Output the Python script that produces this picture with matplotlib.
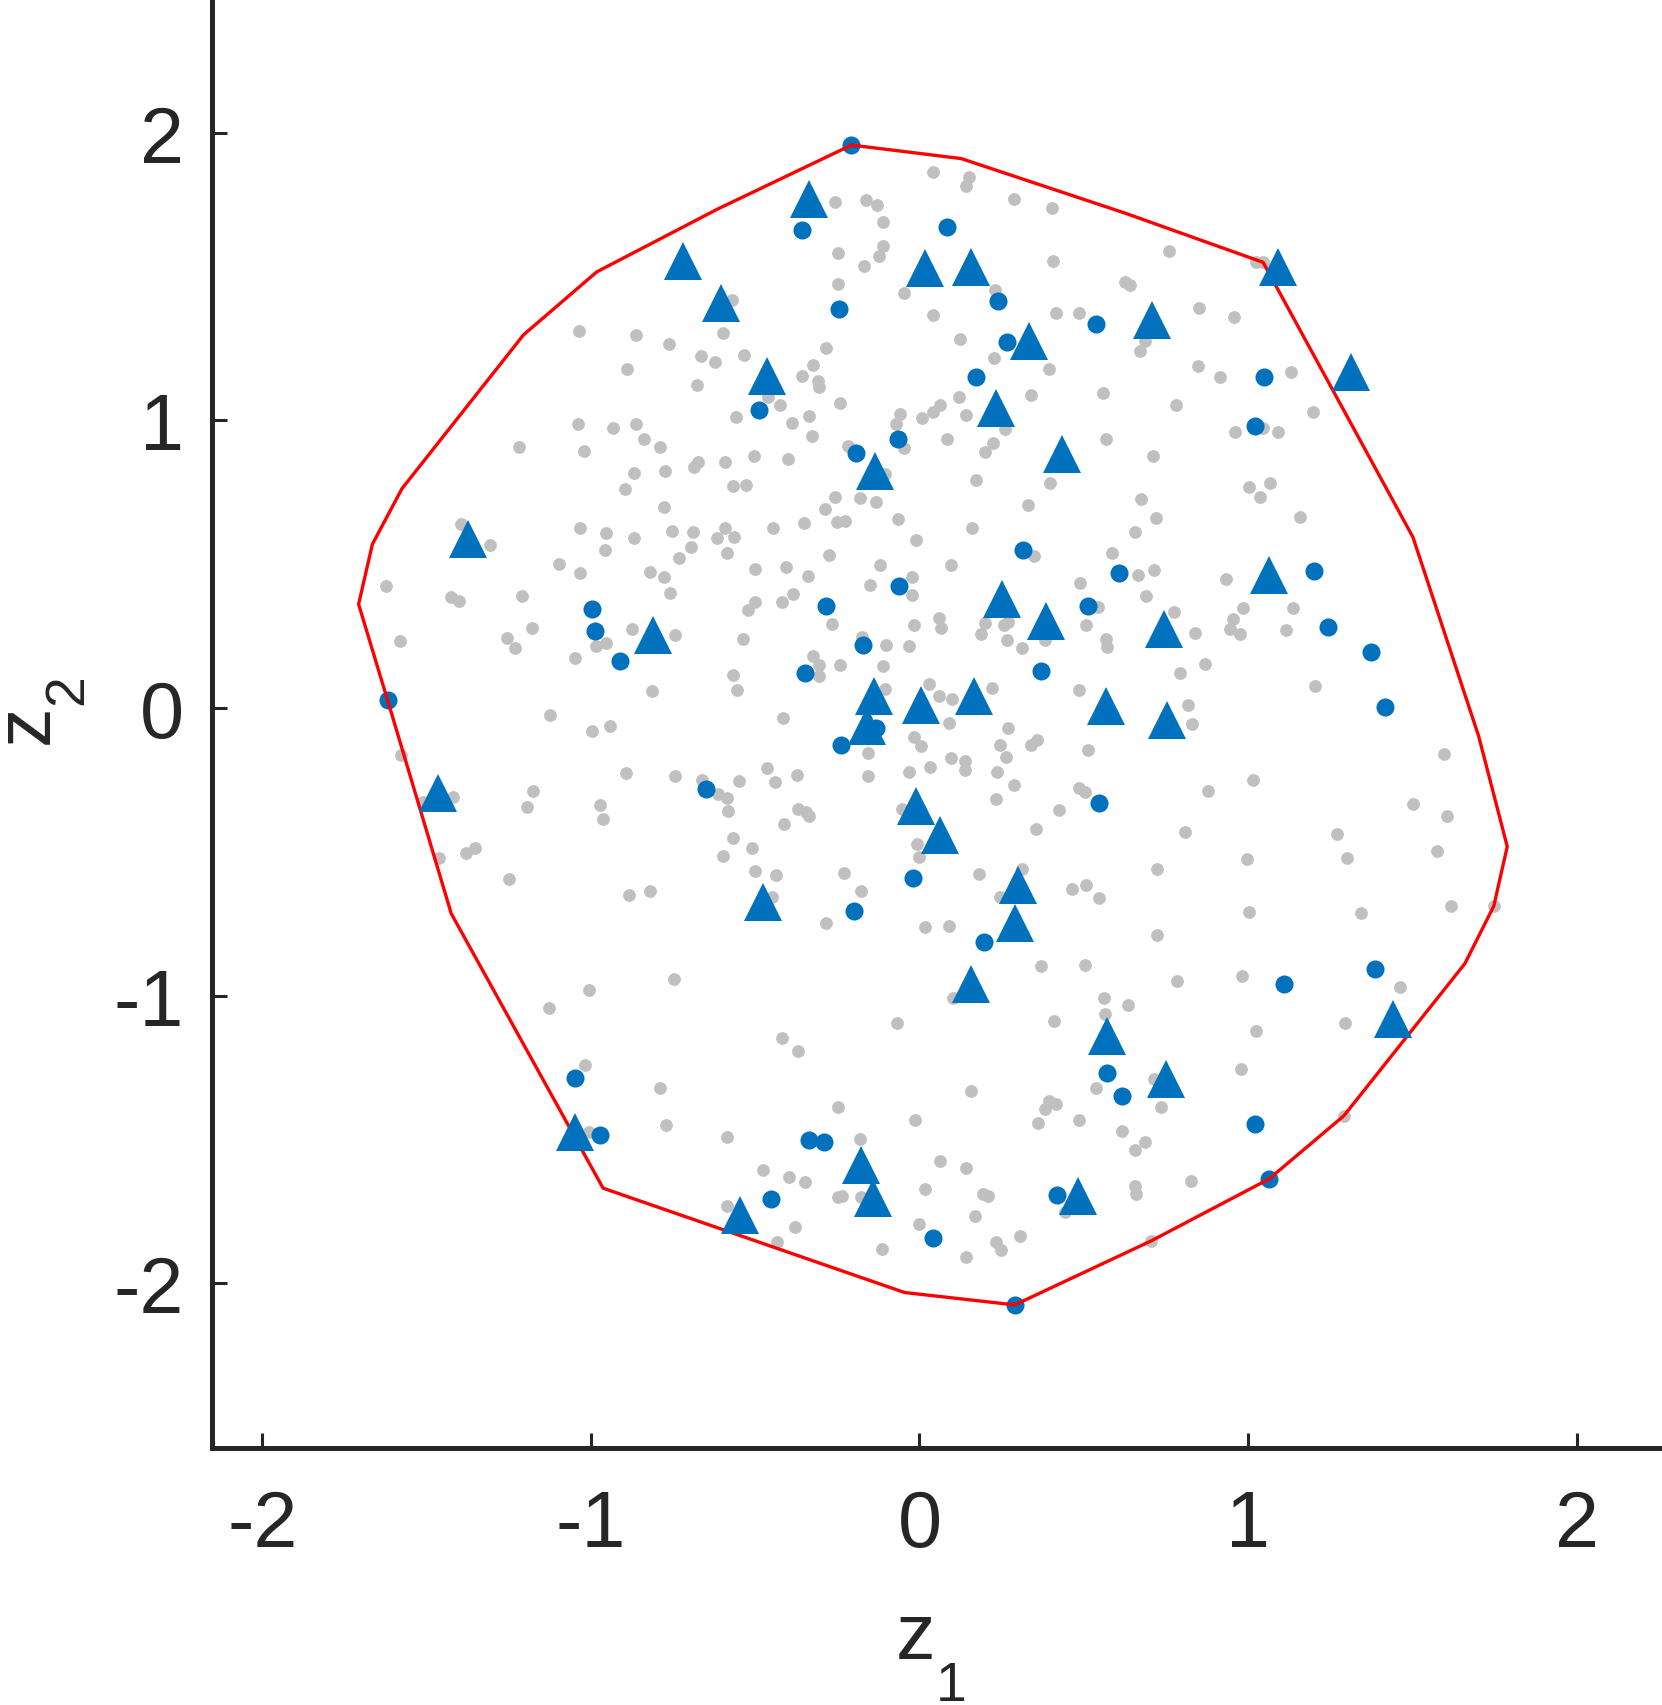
import matplotlib
matplotlib.use("Agg")
import matplotlib.pyplot as plt

# Werte (Datenkoordinaten z1, z2)

# graue Punkte (Stichprobe)
gray_pts = [
    (-0.572, 1.419), (-1.036, 1.310), (-0.864, 1.297), (-0.761, 1.266), (-0.597, 1.305),
    (-0.666, 1.224), (-0.623, 1.202), (-0.533, 1.227), (-0.891, 1.180), (-0.678, 1.122),
    (-0.559, 1.013), (-1.040, 0.987), (-0.933, 0.973), (-0.864, 0.988), (-0.839, 0.934),
    (-0.789, 0.907), (-1.220, 0.908), (-1.022, 0.894), (-0.673, 0.855), (-0.686, 0.839),
    (-0.592, 0.855), (-0.775, 0.825), (-0.869, 0.816), (-0.895, 0.761), (-0.567, 0.772),
    (-0.529, 0.776), (-0.777, 0.700),
    (0.041, 1.863), (0.150, 1.848), (0.143, 1.815), (-0.257, 1.760), (-0.164, 1.766),
    (-0.130, 1.750), (-0.110, 1.689), (0.288, 1.772), (0.402, 1.739), (-0.249, 1.583),
    (-0.110, 1.606), (-0.122, 1.572), (-0.168, 1.538), (-0.247, 1.475), (-0.047, 1.445),
    (0.040, 1.367), (0.405, 1.554), (0.625, 1.481), (0.640, 1.473), (0.229, 1.455),
    (0.415, 1.373), (0.485, 1.373), (0.122, 1.283), (0.227, 1.219), (0.394, 1.180),
    (0.670, 1.240), (0.686, 1.278), (-0.284, 1.253), (-0.323, 1.193), (-0.359, 1.156),
    (-0.310, 1.139), (-0.306, 1.116), (-0.460, 1.081), (-0.424, 1.054), (-0.242, 1.060),
    (-0.387, 0.992), (-0.336, 1.015), (-0.328, 0.947), (0.338, 1.089), (0.560, 1.096),
    (0.120, 1.080), (0.062, 1.054), (0.042, 1.029), (0.007, 1.007), (-0.060, 1.023),
    (-0.070, 0.988), (0.143, 1.020), (0.259, 0.969), (0.084, 0.934), (0.224, 0.921),
    (0.201, 0.890), (0.568, 0.934), (-0.503, 0.878), (-0.400, 0.865), (-0.217, 0.913),
    (-0.048, 0.904), (-0.105, 0.814), (0.173, 0.794), (0.397, 0.784), (-0.257, 0.733),
    (-0.181, 0.729), (-0.131, 0.715), (-0.286, 0.693), (0.330, 0.705), (0.673, 0.727),
    (-0.064, 0.658), (-0.351, 0.643), (-0.252, 0.646), (-0.227, 0.650),
    (0.759, 1.590), (1.023, 1.553), (1.046, 1.550), (0.851, 1.390), (0.957, 1.359),
    (0.847, 1.191), (0.916, 1.151), (1.132, 1.167), (0.781, 1.055), (1.197, 1.028),
    (0.960, 0.959), (1.046, 0.974), (1.091, 0.959), (0.711, 0.875), (1.002, 0.768),
    (1.067, 0.782), (1.037, 0.734), (0.721, 0.660), (1.158, 0.666),
    (-1.034, 0.625), (-0.954, 0.607), (-0.870, 0.592), (-0.753, 0.617), (-0.689, 0.611),
    (-0.615, 0.592), (-0.564, 0.595), (-0.586, 0.540), (-0.591, 0.627), (-1.307, 0.567),
    (-1.396, 0.640), (-0.958, 0.548), (-1.098, 0.502), (-1.032, 0.469), (-0.819, 0.472),
    (-0.779, 0.454), (-0.732, 0.521), (-0.695, 0.559), (-0.759, 0.400), (-1.623, 0.424),
    (-1.426, 0.385), (-1.402, 0.373), (-1.209, 0.391), (-1.581, 0.232), (-1.256, 0.243),
    (-1.230, 0.209), (-1.179, 0.279), (-1.049, 0.174), (-0.983, 0.215), (-0.955, 0.227),
    (-0.876, 0.274), (-0.744, 0.253), (-0.521, 0.341), (-0.537, 0.239), (-0.566, 0.116),
    (-0.555, 0.063), (-0.815, 0.059), (-1.125, -0.026), (-0.996, -0.080), (-0.943, -0.064),
    (-1.577, -0.163), (-0.894, -0.227), (-0.744, -0.237), (-0.663, -0.252), (-0.549, -0.254),
    (-0.613, -0.298), (-0.587, -0.313), (-0.584, -0.358), (-1.177, -0.287), (-1.195, -0.344),
    (-0.972, -0.338), (-0.964, -0.386), (-1.421, -0.311), (-1.510, -0.327), (-0.566, -0.451),
    (-0.599, -0.513), (-1.462, -0.521), (-1.380, -0.504), (-1.353, -0.487), (-1.249, -0.593),
    (-0.885, -0.650), (-0.821, -0.636),
    (-0.445, 0.627), (0.161, 0.626), (0.655, 0.611), (-0.012, 0.586), (-0.275, 0.533),
    (-0.501, 0.484), (-0.406, 0.490), (-0.339, 0.460), (-0.121, 0.498), (0.097, 0.498),
    (-0.024, 0.454), (-0.022, 0.394), (-0.152, 0.429), (-0.386, 0.395), (-0.417, 0.367),
    (-0.501, 0.368), (-0.267, 0.292), (-0.016, 0.288), (0.058, 0.312), (0.067, 0.280),
    (0.201, 0.295), (0.257, 0.287), (0.270, 0.298), (0.188, 0.259), (0.266, 0.237),
    (0.311, 0.209), (0.349, 0.527), (0.587, 0.538), (0.666, 0.463), (0.691, 0.391),
    (0.490, 0.435), (0.542, 0.351), (0.506, 0.288), (0.568, 0.241), (0.570, 0.212),
    (0.383, 0.237), (-0.176, 0.246), (-0.102, 0.220), (-0.033, 0.214), (-0.323, 0.180),
    (-0.307, 0.148), (-0.307, 0.112), (-0.241, 0.150), (-0.111, 0.145), (-0.105, 0.067),
    (0.030, 0.084), (0.060, 0.043), (0.100, 0.032), (0.222, 0.069), (0.487, 0.064),
    (-0.414, -0.033), (0.091, -0.052), (0.268, -0.070), (0.246, -0.127), (0.358, -0.111),
    (0.339, -0.130), (0.264, -0.169), (-0.016, -0.100), (0.004, -0.131), (-0.158, -0.158),
    (0.096, -0.174), (0.138, -0.185), (0.140, -0.216), (0.031, -0.205), (-0.031, -0.224),
    (0.235, -0.224), (0.513, -0.145), (-0.465, -0.209), (-0.374, -0.232), (-0.440, -0.257),
    (-0.156, -0.238), (0.289, -0.269), (0.232, -0.316), (0.485, -0.279), (0.505, -0.293),
    (0.425, -0.354), (0.354, -0.421), (-0.369, -0.352), (-0.344, -0.362), (-0.337, -0.376),
    (-0.412, -0.402), (-0.053, -0.351), (-0.511, -0.486), (-0.008, -0.472), (-0.001, -0.519),
    (-0.501, -0.568), (-0.437, -0.581), (-0.230, -0.574), (-0.177, -0.637), (0.182, -0.577),
    (0.313, -0.561), (-0.450, -0.658), (0.245, -0.657), (0.463, -0.631), (0.508, -0.615),
    (0.547, -0.660), (-0.285, -0.748), (0.018, -0.762), (0.090, -0.759), (0.280, -0.773),
    (0.714, 0.480), (0.932, 0.449), (0.775, 0.334), (0.838, 0.260), (0.986, 0.347),
    (0.955, 0.308), (0.944, 0.275), (0.975, 0.258), (1.137, 0.348), (1.117, 0.273),
    (0.868, 0.154), (0.792, 0.121), (1.203, 0.076), (0.818, 0.012), (0.831, -0.055),
    (1.595, -0.159), (1.015, -0.249), (0.879, -0.289), (1.502, -0.334), (1.605, -0.374),
    (0.807, -0.431), (1.271, -0.439), (0.998, -0.524), (1.300, -0.522), (1.574, -0.499),
    (0.723, -0.561), (1.003, -0.710), (1.343, -0.713), (1.618, -0.689), (1.748, -0.689),
    (-0.746, -0.942), (-1.005, -0.981), (-1.129, -1.044), (-1.017, -1.242), (-0.789, -1.323),
    (-0.772, -1.452), (-0.585, -1.491), (-1.005, -1.476), (-0.586, -1.731),
    (0.369, -0.899), (0.503, -0.895), (0.562, -1.010), (0.635, -1.032), (0.565, -1.065),
    (0.408, -1.087), (0.103, -1.010), (-0.069, -1.097), (-0.418, -1.146), (-0.370, -1.193),
    (0.157, -1.331), (-0.249, -1.386), (-0.013, -1.433), (0.537, -1.323), (0.394, -1.366),
    (0.415, -1.376), (0.381, -1.396), (0.360, -1.445), (0.485, -1.433), (0.615, -1.471),
    (0.686, -1.511), (0.657, -1.537), (-0.181, -1.498), (0.063, -1.576), (0.143, -1.601),
    (-0.476, -1.607), (-0.398, -1.631), (-0.349, -1.648), (-0.249, -1.701), (-0.237, -1.696),
    (-0.178, -1.699), (0.017, -1.674), (0.194, -1.690), (0.209, -1.697), (0.168, -1.767),
    (0.657, -1.661), (0.660, -1.690), (0.442, -1.754), (-0.379, -1.806), (-0.435, -1.858),
    (0.000, -1.793), (-0.115, -1.883), (0.234, -1.858), (0.248, -1.885), (0.306, -1.835),
    (0.143, -1.911),
    (0.723, -0.789), (0.783, -0.951), (0.983, -0.932), (1.464, -0.969), (1.025, -1.124),
    (1.296, -1.097), (0.980, -1.255), (0.713, -1.291), (0.735, -1.389), (1.292, -1.418),
    (0.827, -1.644), (0.706, -1.853),
]

# blaue Kreise
circle_z1 = [-0.207, -0.357, 0.083, -0.244, 0.238, 0.536, 0.265, 0.173, -0.489, -0.064,
             -0.194, 1.049, 1.021, -1.619, -0.996, -0.987, -0.910, -0.650, 0.316, 0.606,
             -0.061, -0.284, 0.513, -0.173, -0.348, 0.369, -0.131, -0.240, 0.545, -0.021,
             -0.200, 1.201, 1.243, 1.373, 1.416, -1.049, -0.972, 0.197, 0.570, 0.616,
             -0.337, -0.290, -0.452, 0.042, 0.418, 0.290, 1.386, 1.109, 1.021, 1.064]
circle_z2 = [1.958, 1.661, 1.673, 1.387, 1.416, 1.337, 1.272, 1.151, 1.035, 0.934,
             0.887, 1.151, 0.980, 0.028, 0.345, 0.268, 0.162, -0.281, 0.550, 0.469,
             0.424, 0.356, 0.356, 0.219, 0.122, 0.128, -0.070, -0.128, -0.332, -0.590,
             -0.705, 0.475, 0.283, 0.194, 0.003, -1.288, -1.484, -0.813, -1.270, -1.349,
             -1.502, -1.511, -1.708, -1.843, -1.693, -2.076, -0.906, -0.961, -1.447, -1.638]

# blaue Dreiecke
tri_z1 = [-0.721, -0.604, -0.336, 0.016, 0.156, -0.463, 0.334, 0.234, 0.434, -0.136,
          1.091, 1.314, 0.709, -1.373, -0.810, -1.466, 0.252, 0.386, -0.138, 0.006,
          0.165, 0.568, -0.161, -0.012, 0.064, 0.300, 0.292, -0.477, 1.064, 0.744,
          0.754, -1.049, -0.547, 0.158, 0.570, -0.178, -0.141, 0.483, 1.442, 0.749]
tri_z2 = [1.556, 1.408, 1.771, 1.532, 1.534, 1.156, 1.275, 1.045, 0.884, 0.824,
          1.533, 1.170, 1.348, 0.588, 0.254, -0.295, 0.380, 0.301, 0.043, 0.011,
          0.041, 0.006, -0.061, -0.342, -0.441, -0.617, -0.749, -0.675, 0.464, 0.275,
          -0.041, -1.476, -1.762, -0.961, -1.140, -1.591, -1.705, -1.696, -1.080, -1.291]

# Ecken der roten Huelle
hull_z1 = [-0.207, 0.127, 0.629, 1.046, 1.502, 1.702, 1.789, 1.748, 1.660, 1.292, 1.064,
           0.706, 0.290, -0.045, -0.963, -1.425, -1.619, -1.707, -1.665, -1.575, -1.205,
           -0.982, -0.615, -0.207]
hull_z2 = [1.958, 1.911, 1.720, 1.550, 0.594, -0.098, -0.482, -0.689, -0.889, -1.418, -1.638,
           -1.853, -2.076, -2.033, -1.670, -0.715, 0.028, 0.361, 0.570, 0.763, 1.298,
           1.517, 1.735, 1.958]

TICKS = [-2, -1, 0, 1, 2]

BLUE = "#0072BD"
GRAY = "#C0C0C0"
AXIS_COLOR = "#262626"

plt.rcParams["font.family"] = ["Liberation Sans", "DejaVu Sans"]
plt.rcParams["axes.unicode_minus"] = False

fig = plt.figure(figsize=(16.62, 17.06), dpi=100)
ax = fig.add_axes([0.1276, 0.1506, 0.8724, 0.8494])

gray_z1 = [p[0] for p in gray_pts]
gray_z2 = [p[1] for p in gray_pts]

ax.plot(gray_z1, gray_z2, "o", color=GRAY, markersize=9.2, markeredgewidth=0, zorder=1)
ax.plot(circle_z1, circle_z2, "o", color=BLUE, markersize=13, markeredgewidth=0, zorder=2)
ax.plot(hull_z1, hull_z2, "-", color="#FF0000", linewidth=2.4, zorder=3)
ax.plot(tri_z1, tri_z2, "^", color=BLUE, markersize=28, markeredgewidth=0, zorder=4)

ax.set_xlim(-2.153, 2.26)
ax.set_ylim(-2.574, 2.466)
ax.set_xticks(TICKS)
ax.set_yticks(TICKS)

for side in ["top", "right"]:
    ax.spines[side].set_visible(False)
for side in ["left", "bottom"]:
    ax.spines[side].set_linewidth(3.6)
    ax.spines[side].set_color(AXIS_COLOR)

ax.tick_params(direction="in", length=11, width=2.2, colors=AXIS_COLOR, labelsize=57)
ax.tick_params(axis="x", pad=29)
ax.tick_params(axis="y", pad=20)

# Achsentitel wie in MATLAB (TeX): grosser, tief gesetzter Index
ax.set_xlabel("z", fontsize=57, color=AXIS_COLOR)
ax.set_ylabel("z", fontsize=57, color=AXIS_COLOR)
ax.xaxis.set_label_coords(0.4855, -0.1045)
ax.yaxis.set_label_coords(-0.1015, 0.5)

ax.annotate("1", xy=(1, 0), xycoords=ax.xaxis.label, xytext=(0, -25),
            textcoords="offset pixels", ha="left", va="baseline",
            fontsize=40, color=AXIS_COLOR, annotation_clip=False)
ax.annotate("2", xy=(1, 1), xycoords=ax.yaxis.label, xytext=(17, 0),
            textcoords="offset pixels", ha="left", va="baseline",
            rotation=90, rotation_mode="anchor",
            fontsize=40, color=AXIS_COLOR, annotation_clip=False)

fig.savefig("out.png", dpi=100)
